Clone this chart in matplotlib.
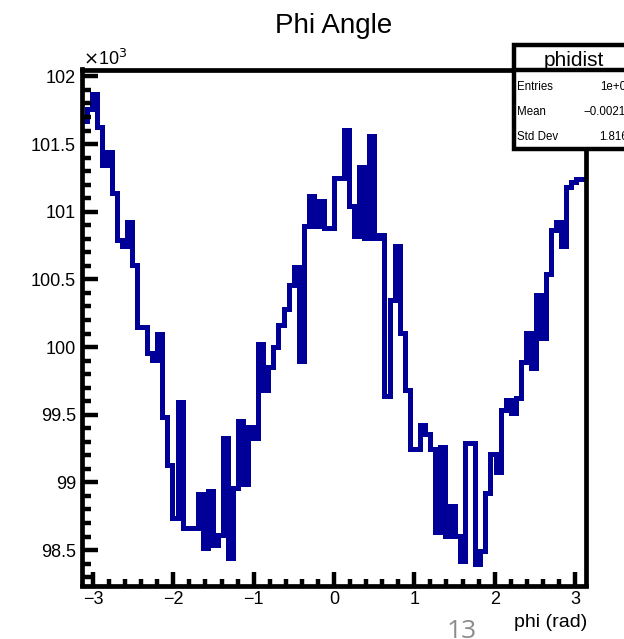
import numpy as np
import matplotlib
matplotlib.use("Agg")
import matplotlib.pyplot as plt
from matplotlib.patches import Rectangle
from matplotlib.lines import Line2D
from matplotlib.ticker import MultipleLocator, FuncFormatter

plt.rcParams['font.family'] = ['Liberation Sans', 'DejaVu Sans']

# phidist: 100 bins from -pi to pi
nbins = 100
counts = [101671, 101759, 101870, 101626, 101346, 101442, 101139, 100791, 100747, 100924,
          100606, 100148, 100148, 99956, 99904, 100096, 99483, 99128, 98737, 99594,
          98663, 98663, 98663, 98914, 98515, 98936, 98537, 98611, 99328, 98441,
          98958, 99453, 98988, 99409, 99328, 100023, 99683, 99853, 100000, 100163,
          100281, 100459, 100592, 99897, 100895, 101116, 100895, 101079, 100880, 100880,
          101249, 101249, 101604, 101043, 100821, 101331, 100806, 101560, 100806, 100828,
          99638, 100348, 100747, 100104, 99683, 99246, 99246, 99424, 99357, 99246,
          98633, 99261, 98603, 98825, 98603, 98419, 99291, 99291, 98397, 98493,
          98921, 99210, 99076, 99535, 99609, 99513, 99623, 99890, 100104, 99845,
          100385, 100067, 100540, 100865, 100924, 100747, 101183, 101220, 101242, 101242]
stat_names = ['Entries', 'Mean', 'Std Dev']
stat_values = ['1e+07', '\u22120.00215', '1.816']

W, H = 624, 639
def fx(px):
    return px / W
def fy(py):
    return 1 - py / H

edges = np.linspace(-np.pi, np.pi, nbins + 1)
vals = np.array(counts) / 1000.0

fig = plt.figure(figsize=(W / 100, H / 100), dpi=100)
ax = fig.add_axes([fx(81.6), fy(585.5), (586.4 - 81.6) / W, (585.5 - 69.5) / H])

ax.stairs(vals, edges, baseline=None, color='#000099', linewidth=3.6)

ax.set_xlim(-np.pi, np.pi)
ax.set_ylim(98.238, 102.051)

for s in ax.spines.values():
    s.set_linewidth(3.4)

ax.xaxis.set_major_locator(MultipleLocator(1))
ax.xaxis.set_minor_locator(MultipleLocator(0.2))
ax.yaxis.set_major_locator(MultipleLocator(0.5))
ax.yaxis.set_minor_locator(MultipleLocator(0.1))
ax.yaxis.set_major_formatter(FuncFormatter(lambda v, p: '%g' % v))

ax.tick_params(axis='x', which='major', direction='in', length=10, width=3.2,
               labelsize=13, pad=4, top=False)
ax.tick_params(axis='x', which='minor', direction='in', length=5.4, width=3.2, top=False)
ax.tick_params(axis='y', which='major', direction='in', length=11.5, width=3.2,
               labelsize=13, pad=4, right=False)
ax.tick_params(axis='y', which='minor', direction='in', length=6.5, width=3.2, right=False)

fig.text(fx(334), fy(33), 'Phi Angle', fontsize=20, ha='center', va='baseline')
fig.text(fx(83), fy(65), r'$\times$10$^{3}$', fontsize=13, ha='left', va='baseline')
fig.text(fx(587), fy(627), 'phi (rad)', fontsize=14, ha='right', va='baseline')

# stats box, running off the right edge of the page
box = Rectangle((fx(513.5), fy(148.5)), fx(680) - fx(513.5), fy(45) - fy(148.5),
                transform=fig.transFigure, facecolor='white', edgecolor='black',
                linewidth=3.2, clip_on=False, zorder=5)
fig.patches.append(box)
fig.lines.append(Line2D([fx(513.5), fx(680)], [fy(70), fy(70)], transform=fig.transFigure,
                        color='black', linewidth=3.2, zorder=6))
fig.text(fx(574), fy(66), 'phidist', fontsize=15, ha='center', va='baseline', zorder=7)
rows_y = [90, 115, 140]
val_x = [600, 583, 599]
for name, val, py, vx in zip(stat_names, stat_values, rows_y, val_x):
    fig.text(fx(517), fy(py), name, fontsize=8.3, ha='left', va='baseline', zorder=7)
    fig.text(fx(vx), fy(py), val, fontsize=8.3, ha='left', va='baseline', zorder=7)

fig.text(fx(447), fy(638), '13', fontsize=19, color='#8c8c8c', family='Open Sans',
         ha='left', va='baseline')

fig.savefig('out.png', dpi=100)
